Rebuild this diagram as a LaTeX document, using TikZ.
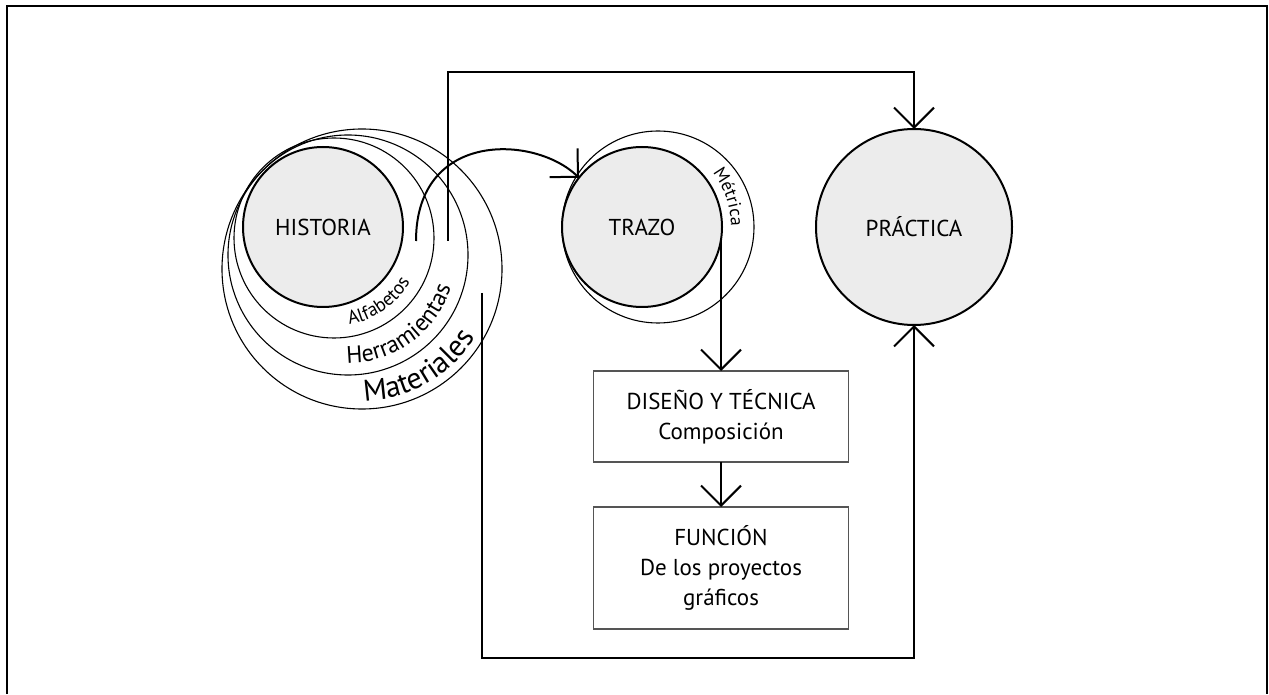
\documentclass[tikz,border=0pt]{standalone}
\usepackage{fontspec}
\setmainfont{PT Sans}
\usetikzlibrary{arrows.meta,decorations.text}
\definecolor{discgray}{RGB}{236,236,236}
\definecolor{boxline}{RGB}{85,85,85}
\begin{document}
\begin{tikzpicture}[x=1pt,y=1pt,
  disc/.style={circle,draw,line width=2pt,fill=discgray,inner sep=0pt,outer sep=0pt,font=\fontsize{23}{27}\selectfont},
  ring/.style={line width=1.1pt},
  stage/.style={draw=boxline,line width=1.1pt,minimum width=255pt,align=center,inner sep=0pt,outer sep=0pt,font=\fontsize{23}{30}\selectfont},
  link/.style={line width=2pt,-{Straight Barb[length=20pt,width=40pt]}}]
\useasboundingbox (0,0) rectangle (1269,694);
\draw[line width=2.2pt] (7,0) -- (7,688) -- (1267,688) -- (1267,0);  % frame, open below

% rings round HISTORIA
\draw[ring] (362,425) circle[radius=140];
\draw[ring] (348,439) circle[radius=120];
\draw[ring] (334,456) circle[radius=100];
\node[disc,minimum size=160pt] (historia) at (323,467) {HISTORIA};
\path[decorate,decoration={text along path,text align=center,
  text={|\fontsize{19}{19}\selectfont|Alfabetos}}]
  ([shift={(334,456)}]-100:88) arc[start angle=-100,end angle=-10,radius=88];
\path[decorate,decoration={text along path,text align=center,
  text={|\fontsize{24}{24}\selectfont|Herramientas}}]
  ([shift={(348,439)}]-110:108) arc[start angle=-110,end angle=2,radius=108];
\path[decorate,decoration={text along path,text align=center,
  text={|\fontsize{30}{30}\selectfont|Materiales}}]
  ([shift={(362,425)}]-110:132) arc[start angle=-110,end angle=-10,radius=132];

% TRAZO with its ring
\draw[ring] (658,467) circle[radius=96];
\node[disc,minimum size=160pt] (trazo) at (642,467) {TRAZO};
\path[decorate,decoration={text along path,text align=center,
  text={|\fontsize{18}{18}\selectfont|Métrica}}]
  ([shift={(642,467)}]60:89) arc[start angle=60,end angle=-22,radius=89];

\node[disc,minimum size=196pt] (practica) at (914,467) {PRÁCTICA};

% boxes
\node[stage,minimum height=91pt] (diseno) at (721,277.5) {DISEÑO Y TÉCNICA\\Composición};
\node[stage,minimum height=122pt] (funcion) at (721,126) {FUNCIÓN\\De los proyectos\\gráficos};

% connectors
\coordinate (arcstart) at (416,453);
\coordinate (topstart) at (448,453);
\coordinate (loopstart) at (482,401);
\draw[link] (arcstart) .. controls (416,564) and (535,559) .. (trazo.142);
\draw[link] (topstart) -- ++(0,168.5) -| (practica.north);
\draw[link] (loopstart) -- ++(0,-365) -| (practica.south);
\draw[link] (trazo.-9) -- (trazo.-9 |- diseno.north);
\draw[link] (diseno.south) -- (funcion.north);
\end{tikzpicture}
\end{document}
